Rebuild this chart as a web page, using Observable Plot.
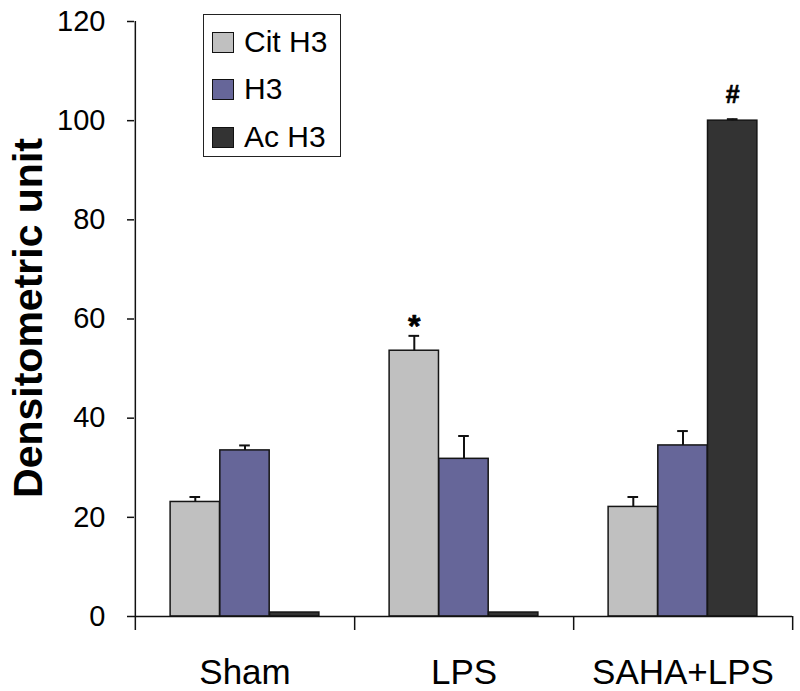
<!DOCTYPE html>
<html><head><meta charset="utf-8">
<script src="https://cdn.jsdelivr.net/npm/d3@7"></script>
<script src="https://cdn.jsdelivr.net/npm/@observablehq/plot@0.6"></script>
<style>
body{margin:0;background:#fff;font-family:"Liberation Sans",Arial,sans-serif}
#wrap{position:relative;width:800px;height:691px}
#legend{position:absolute;left:203px;top:14px;width:138px;height:143px;box-sizing:border-box;border:1.5px solid #222;background:#fff}
.row{position:absolute;left:8px;display:flex;align-items:center;font-size:30px;height:30px;color:#000;white-space:nowrap}
.sw{width:22px;height:21px;border:1.5px solid #111;margin-right:10px;box-sizing:border-box}
</style></head><body><div id="wrap"><div id="legend"></div></div>
<script>
const groups = ["Sham", "LPS", "SAHA+LPS"];
const series = ["Cit H3", "H3", "Ac H3"];
const colors = ["#c0c0c0", "#666699", "#333333"];
const citH3 = [23.1, 53.6, 22.1];
const citH3Err = [1.0, 3.0, 2.0];
const h3 = [33.5, 31.8, 34.5];
const h3Err = [1.0, 4.6, 2.9];
const acH3 = [0.8, 0.8, 100];
const acH3Err = [0, 0, 0.3];
const citH3Marks = ["", "*", ""];
const h3Marks = ["", "", ""];
const acH3Marks = ["", "", "#"];
const yTicks = [0, 20, 40, 60, 80, 100, 120];
const yTitle = "Densitometric unit";

const W = 800, H = 691, mL = 134, mR = 8, mT = 21, mB = 75;
const band = (W - mL - mR) / groups.length;
const barW = band * 0.2266;
const inset = (band - barW) / 2;
const capInset = (band - 11) / 2;

const values = [citH3, h3, acH3];
const errs = [citH3Err, h3Err, acH3Err];
const markTexts = [citH3Marks, h3Marks, acH3Marks];
const markStyle = [{fontSize: 32, dy: -9}, {fontSize: 32, dy: -9}, {fontSize: 25, dy: -24}];

const marks = [];
series.forEach((s, i) => {
  const data = groups.map((g, j) => ({group: g, value: values[i][j], err: errs[i][j], mark: markTexts[i][j]}));
  const dx = (i - 1) * barW;
  marks.push(Plot.barY(data, {x: "group", y: "value", fill: colors[i], stroke: "#151515", strokeWidth: 1.5, insetLeft: inset, insetRight: inset, dx}));
  const withErr = data.filter(d => d.err > 0);
  marks.push(Plot.ruleX(withErr, {x: "group", y1: "value", y2: d => d.value + d.err, dx, stroke: "#111", strokeWidth: 2}));
  marks.push(Plot.tickY(withErr, {x: "group", y: d => d.value + d.err, dx, insetLeft: capInset, insetRight: capInset, stroke: "#111", strokeWidth: 2}));
  marks.push(Plot.text(data.filter(d => d.mark), {x: "group", y: d => d.value + d.err, text: "mark", dx, dy: markStyle[i].dy, fontSize: markStyle[i].fontSize, fontWeight: "bold", lineAnchor: "middle", fill: "#000", stroke: "#000", strokeWidth: 0.6}));
});

const chart = Plot.plot({
  width: W, height: H,
  marginLeft: mL, marginRight: mR, marginTop: mT, marginBottom: mB,
  style: {fontFamily: "'Liberation Sans', Arial, sans-serif", color: "#000", background: "#fff"},
  x: {domain: groups, padding: 0, axis: null},
  y: {domain: [0, 120], axis: null},
  marks: [
    Plot.axisY({ticks: yTicks, tickSize: 7, tickPadding: 22, fontSize: 29, label: null, stroke: "#111", strokeWidth: 1.5}),
    Plot.axisX({tickSize: 0, tickPadding: 43, fontSize: 35, label: null}),
    ...marks,
    Plot.ruleY([0], {stroke: "#111", strokeWidth: 1.5}),
    Plot.ruleX([groups[0]], {x: d => d, y1: 120, y2: 0, dx: -band / 2, insetBottom: -14, stroke: "#111", strokeWidth: 1.5}),
    Plot.ruleX(groups, {x: d => d, y1: 0, y2: 0, dx: band / 2, insetBottom: -14, stroke: "#111", strokeWidth: 1.5}),
    Plot.text([yTitle], {text: d => d, frameAnchor: "left", textAnchor: "middle", lineAnchor: "middle", rotate: -90, dx: -106, dy: -1, fontSize: 41, fontWeight: "bold", fill: "#000"})
  ]
});
document.getElementById("wrap").prepend(chart);

const legend = document.getElementById("legend");
const rowTops = [12, 59, 107];
series.forEach((s, i) => {
  const row = document.createElement("div");
  row.className = "row";
  row.style.top = rowTops[i] + "px";
  const sw = document.createElement("span");
  sw.className = "sw";
  sw.style.background = colors[i];
  const t = document.createElement("span");
  t.textContent = s;
  row.append(sw, t);
  legend.append(row);
});
</script></body></html>
